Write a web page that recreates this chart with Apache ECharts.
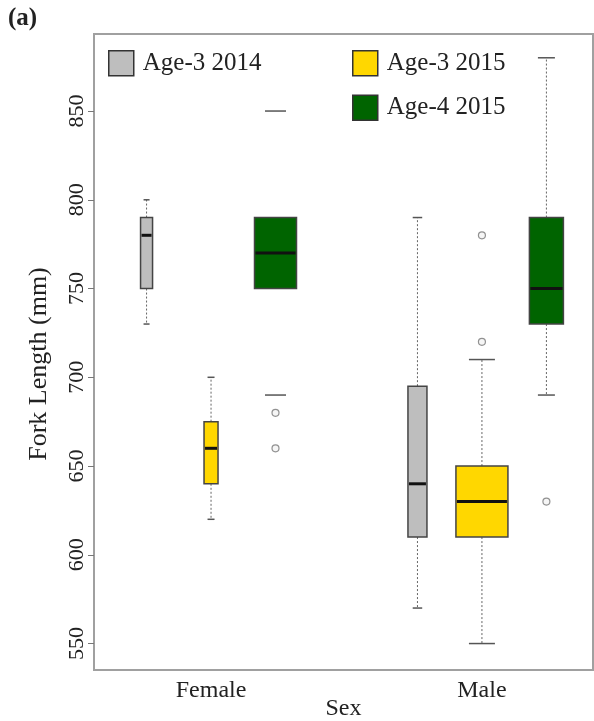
<!DOCTYPE html>
<html>
<head>
<meta charset="utf-8">
<script src="https://cdn.jsdelivr.net/npm/echarts@6/dist/echarts.min.js"></script>
<style>
html,body{margin:0;padding:0;background:#fff;}
#chart{width:594px;height:721px;}
</style>
</head>
<body>
<div id="chart"></div>
<script>
// ---- data ----
const categories = ['Female', 'Male'];
const groupNames = ['Age-3 2014', 'Age-3 2015', 'Age-4 2015'];
// [min, Q1, median, Q3, max] for Female, Male
const age3_2014 = [[730, 750, 780, 790, 800], [570, 610, 640, 695, 790]];
const age3_2015 = [[620, 640, 660, 675, 700], [550, 610, 630, 650, 710]];
const age4_2015 = [[690, 750, 770, 790, 850], [690, 730, 750, 790, 880]];
// outliers for Female, Male
const age3_2014_out = [[], []];
const age3_2015_out = [[], [720, 780]];
const age4_2015_out = [[680, 660], [630]];
const yTicks = [550, 600, 650, 700, 750, 800, 850];

// ---- styles ----
const FONT = 'Liberation Serif';
const groupStats = [age3_2014, age3_2015, age4_2015];
const groupOut = [age3_2014_out, age3_2015_out, age4_2015_out];
const groupColors = ['#bebebe', '#ffd700', '#006400'];
const groupOffsets = [-0.238, 0, 0.238];
const boxWidthsPx = [[12, 19], [14, 52], [42, 34]];
const whiskerVisible = [[true, true], [true, true], [false, true]];

function makeRender(g) {
  return function (params, api) {
    const ci = api.value(0) - 1;
    const xv = api.value(0) + groupOffsets[g];
    const w = boxWidthsPx[g][ci];
    const pMin = api.coord([xv, api.value(1)]);
    const pQ1 = api.coord([xv, api.value(2)]);
    const pMed = api.coord([xv, api.value(3)]);
    const pQ3 = api.coord([xv, api.value(4)]);
    const pMax = api.coord([xv, api.value(5)]);
    const x = pMed[0];
    const children = [];
    if (whiskerVisible[g][ci]) {
      children.push({type: 'line', shape: {x1: x, y1: pQ3[1], x2: x, y2: pMax[1]},
        style: {stroke: '#666', lineWidth: 1, lineDash: [2, 2]}});
      children.push({type: 'line', shape: {x1: x, y1: pQ1[1], x2: x, y2: pMin[1]},
        style: {stroke: '#666', lineWidth: 1, lineDash: [2, 2]}});
    }
    children.push({type: 'line', shape: {x1: x - w / 4, y1: pMax[1], x2: x + w / 4, y2: pMax[1]},
      style: {stroke: '#555', lineWidth: 1.5}});
    children.push({type: 'line', shape: {x1: x - w / 4, y1: pMin[1], x2: x + w / 4, y2: pMin[1]},
      style: {stroke: '#555', lineWidth: 1.5}});
    children.push({type: 'rect', shape: {x: x - w / 2, y: pQ3[1], width: w, height: pQ1[1] - pQ3[1]},
      style: {fill: groupColors[g], stroke: '#444', lineWidth: 1.5}});
    children.push({type: 'line', shape: {x1: x - w / 2 + 1, y1: pMed[1], x2: x + w / 2 - 1, y2: pMed[1]},
      style: {stroke: '#111', lineWidth: 3}});
    return {type: 'group', children: children};
  };
}

const series = [];
groupNames.forEach(function (name, g) {
  series.push({
    name: name,
    type: 'custom',
    renderItem: makeRender(g),
    encode: {x: 0, y: [1, 2, 3, 4, 5]},
    itemStyle: {color: groupColors[g]},
    data: groupStats[g].map(function (s, i) { return [i + 1].concat(s); }),
    z: 3
  });
  const pts = [];
  groupOut[g].forEach(function (arr, i) {
    arr.forEach(function (v) { pts.push([i + 1 + groupOffsets[g], v]); });
  });
  series.push({
    name: name + ' outliers',
    type: 'scatter',
    symbol: 'circle',
    symbolSize: 7,
    itemStyle: {color: '#f4f4f4', borderColor: '#777', borderWidth: 1.2},
    data: pts,
    z: 4
  });
});

function legendItem(i) {
  return {name: groupNames[i], itemStyle: {color: groupColors[i], borderColor: '#333', borderWidth: 1.5}};
}
const legendText = {fontFamily: FONT, fontSize: 25, color: '#222', padding: [0, 0, 0, 4]};

const chart = echarts.init(document.getElementById('chart'), null, {renderer: 'canvas'});
chart.setOption({
  backgroundColor: '#fff',
  animation: false,
  title: {text: '(a)', left: 8, top: 6, padding: 0,
    textStyle: {fontFamily: FONT, fontSize: 25, fontWeight: 'bold', color: '#222'}},
  legend: [
    {data: [legendItem(0)], left: 108, top: 50, padding: 0, itemWidth: 25, itemHeight: 25,
      icon: 'rect', textStyle: legendText, selectedMode: false},
    {data: [legendItem(1), legendItem(2)], left: 352, top: 50, padding: 0, orient: 'vertical', itemGap: 18,
      itemWidth: 25, itemHeight: 25, icon: 'rect', textStyle: legendText, selectedMode: false}
  ],
  grid: {left: 94, top: 34, right: 1, bottom: 51, show: true, borderColor: '#a0a0a0', borderWidth: 2,
    backgroundColor: '#fff', containLabel: false, outerBoundsMode: 'none'},
  xAxis: {
    type: 'value', min: 0.568, max: 2.41,
    axisLine: {show: false}, axisTick: {show: false}, splitLine: {show: false},
    axisLabel: {customValues: [1, 2], formatter: function (v) { return categories[Math.round(v) - 1]; },
      fontFamily: FONT, fontSize: 24, color: '#222', margin: 9},
    name: 'Sex', nameLocation: 'middle', nameGap: 27, nameMoveOverlap: false,
    nameTextStyle: {fontFamily: FONT, fontSize: 24, color: '#222'}
  },
  yAxis: {
    type: 'value', min: 535.1, max: 893.4,
    axisLine: {show: false}, splitLine: {show: false},
    axisTick: {show: true, customValues: yTicks, length: 6, lineStyle: {color: '#777'}},
    axisLabel: {customValues: yTicks, rotate: 90, fontFamily: FONT, fontSize: 22, color: '#222', margin: 6},
    name: 'Fork Length (mm)', nameLocation: 'middle', nameGap: 42, nameRotate: 90, nameMoveOverlap: false,
    nameTextStyle: {fontFamily: FONT, fontSize: 26, color: '#222', padding: [0, 24, 0, 0]}
  },
  series: series
});
</script>
</body>
</html>
